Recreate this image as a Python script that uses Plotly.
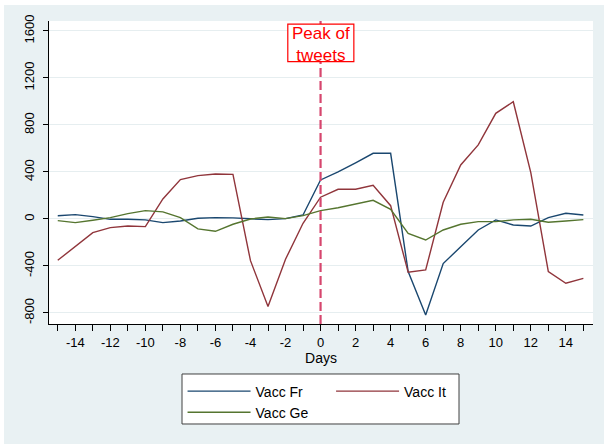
import plotly.graph_objects as go

# Days relative to the tweet peak
days = list(range(-15, 16))

# Series values per day
vacc_fr = [28, 37, 20, -3, -3, -8, -31, -17, 6, 11, 9, 3, -6, 3, 34,
           332, 400, 478, 559, 559, -448, -817, -380, -236, -94, -8, -51, -60, 11, 48, 34]
vacc_it = [-352, -230, -116, -74, -60, -65, 170, 335, 369, 383, 380, -355, -746, -343, -37,
           185, 253, 253, 287, 113, -454, -434, 142, 460, 630, 899, 998, 394, -448, -547, -505]
vacc_ge = [-14, -31, -11, 11, 45, 71, 60, 11, -85, -105, -45, 0, 17, 3, 28,
           71, 96, 125, 159, 82, -122, -179, -94, -45, -23, -23, -8, -3, -28, -17, -6]

# Axis ticks
x_ticks = list(range(-15, 16))
x_ticktext = [str(d) if d % 2 == 0 else "" for d in x_ticks]
y_ticks = [-800, -400, 0, 400, 800, 1200, 1600]
y_ticktext = [str(v) for v in y_ticks]

FONT = "Arial, Liberation Sans, sans-serif"
BG = "#e9f1f3"

fig = go.Figure()
fig.add_trace(go.Scatter(x=days, y=vacc_fr, mode="lines", name="Vacc Fr",
                         line=dict(color="#1a476f", width=1.4), legend="legend"))
fig.add_trace(go.Scatter(x=days, y=vacc_it, mode="lines", name="Vacc It",
                         line=dict(color="#90353b", width=1.4), legend="legend2"))
fig.add_trace(go.Scatter(x=days, y=vacc_ge, mode="lines", name="Vacc Ge",
                         line=dict(color="#55752f", width=1.4), legend="legend"))

shapes = [
    # thin white edge around the graph region (left and top)
    dict(type="rect", xref="paper", yref="paper", x0=-0.0901, x1=-0.0827, y0=-0.3960, y1=1.0693,
         fillcolor="white", line=dict(width=0), layer="above"),
    dict(type="rect", xref="paper", yref="paper", x0=-0.0901, x1=1.0202, y0=1.0528, y1=1.0693,
         fillcolor="white", line=dict(width=0), layer="above"),
    # peak marker
    dict(type="line", xref="x", yref="paper", x0=0, x1=0, y0=0, y1=1,
         line=dict(color="#d6466e", width=2.2, dash="9px,4px")),
    dict(type="rect", xref="x", yref="paper", x0=-1.87, x1=1.9, y0=0.866, y1=0.990,
         fillcolor="white", line=dict(color="#ff0000", width=1.2)),
    # legend frame
    dict(type="rect", xref="paper", yref="paper", x0=0.2445, x1=0.7537, y0=-0.330, y1=-0.165,
         fillcolor="white", line=dict(color="#404040", width=1)),
]

annotations = [
    dict(x=0, y=0.9235, xref="x", yref="paper", text="Peak of<br>tweets", showarrow=False,
         font=dict(family=FONT, size=17, color="#ff0000"), xanchor="center", yanchor="middle"),
]

fig.update_layout(
    width=604, height=444,
    margin=dict(l=49, r=11, t=21, b=120),
    paper_bgcolor=BG, plot_bgcolor="white",
    font=dict(family=FONT, size=13, color="black"),
    shapes=shapes, annotations=annotations,
    legend=dict(x=0.2455, y=-0.17, xanchor="left", yanchor="top", orientation="v",
                bgcolor="rgba(0,0,0,0)", font=dict(family=FONT, size=14), itemwidth=63,
                tracegroupgap=0),
    legend2=dict(x=0.5185, y=-0.17, xanchor="left", yanchor="top", orientation="v",
                 bgcolor="rgba(0,0,0,0)", font=dict(family=FONT, size=14), itemwidth=63),
    showlegend=True,
)

fig.update_xaxes(
    range=[-15.5, 15.55], tickmode="array", tickvals=x_ticks, ticktext=x_ticktext,
    ticks="outside", ticklen=6, tickcolor="black", tickwidth=1,
    showline=True, linecolor="black", linewidth=1, showgrid=False, zeroline=False,
    tickfont=dict(size=13),
    title=dict(text="Days", font=dict(size=14), standoff=4),
)
fig.update_yaxes(
    range=[-894, 1685], tickmode="array", tickvals=y_ticks, ticktext=y_ticktext,
    tickangle=-90, ticks="outside", ticklen=5, tickcolor="black", tickwidth=1,
    ticklabelstandoff=4,
    showline=True, linecolor="black", linewidth=1,
    showgrid=True, gridcolor="#e6eef0", gridwidth=1, zeroline=False,
    tickfont=dict(size=13),
)

fig.write_html("out.html")
